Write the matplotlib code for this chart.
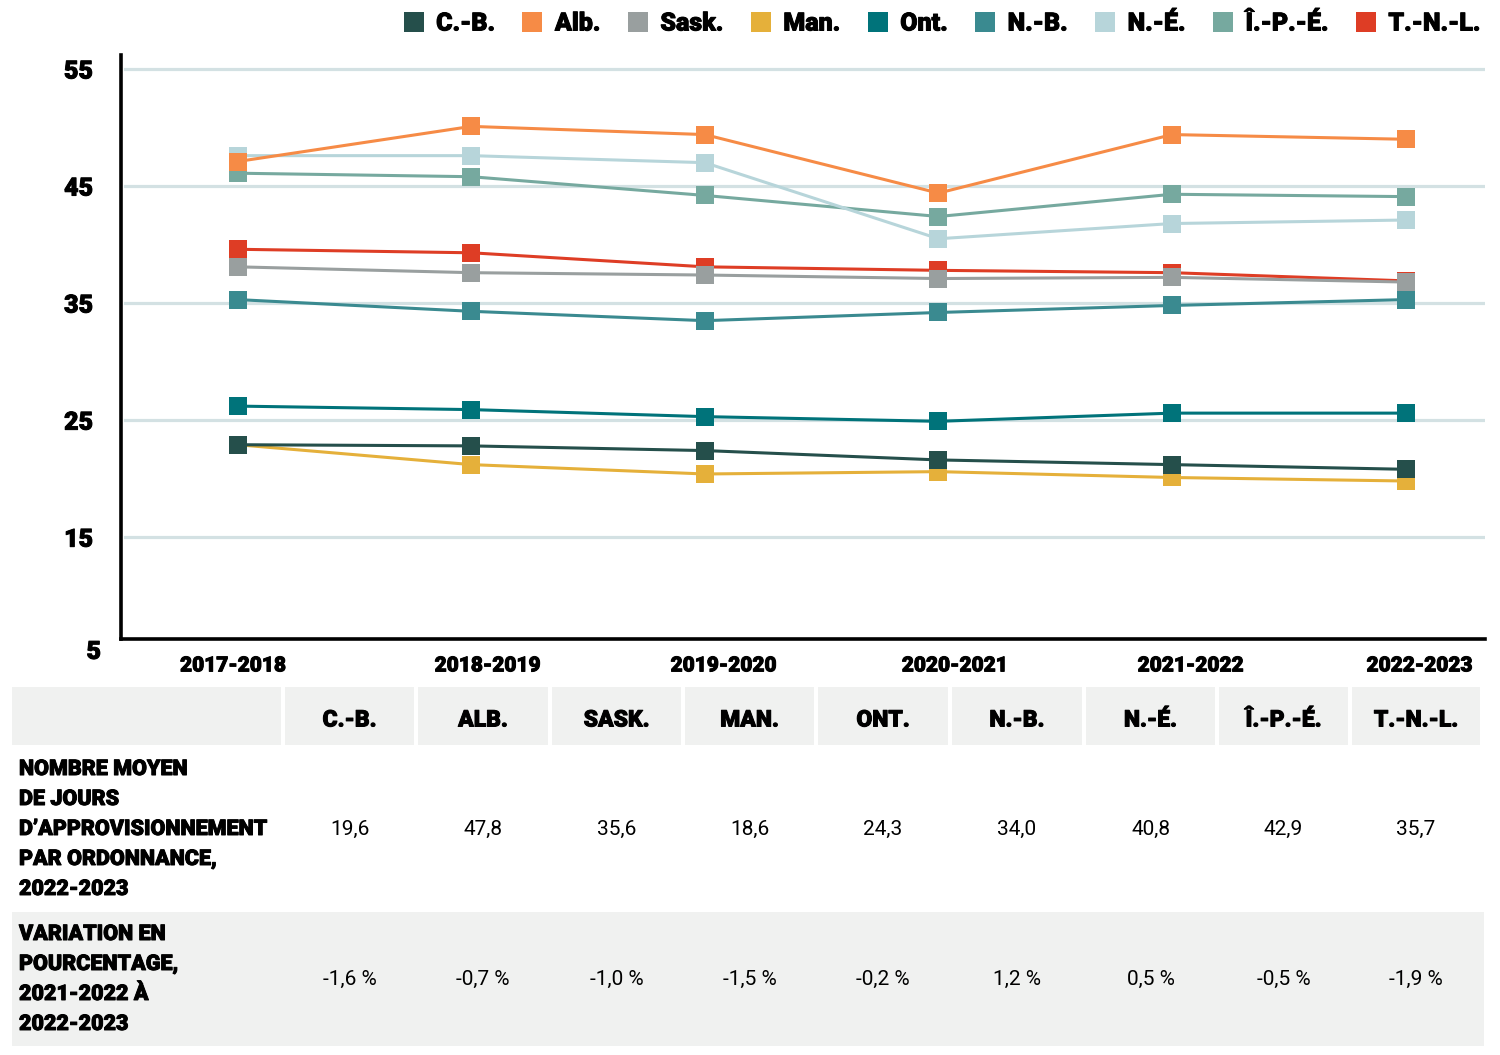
import numpy as np
import matplotlib
matplotlib.use("Agg")
from matplotlib import pyplot as plt
from matplotlib.patches import Rectangle
from matplotlib.lines import Line2D
import matplotlib.patheffects as pe

# Données du graphique
annees = ["2017-2018", "2018-2019", "2019-2020", "2020-2021", "2021-2022", "2022-2023"]
provinces = ["C.-B.", "Alb.", "Sask.", "Man.", "Ont.", "N.-B.", "N.-É.", "Î.-P.-É.", "T.-N.-L."]
couleurs = ["#254f4b", "#f68b46", "#999f9f", "#e5b03a", "#00737a",
            "#3a8a90", "#b7d5da", "#76a99f", "#de3d25"]

cb = [22.9, 22.8, 22.4, 21.6, 21.2, 20.8]
alb = [47.1, 50.1, 49.4, 44.4, 49.4, 49.0]
sask = [38.1, 37.6, 37.4, 37.1, 37.2, 36.8]
man = [22.9, 21.2, 20.4, 20.6, 20.1, 19.8]
ont = [26.2, 25.9, 25.3, 24.9, 25.6, 25.6]
nb = [35.3, 34.3, 33.5, 34.2, 34.8, 35.3]
ne = [47.6, 47.6, 47.0, 40.5, 41.8, 42.1]
ipe = [46.1, 45.8, 44.2, 42.4, 44.3, 44.1]
tnl = [39.6, 39.3, 38.1, 37.8, 37.6, 36.9]
series = [cb, alb, sask, man, ont, nb, ne, ipe, tnl]

# Tableau
entetes = ["C.-B.", "ALB.", "SASK.", "MAN.", "ONT.", "N.-B.", "N.-É.", "Î.-P.-É.", "T.-N.-L."]
jours_2223 = ["19,6", "47,8", "35,6", "18,6", "24,3", "34,0", "40,8", "42,9", "35,7"]
variation = ["-1,6 %", "-0,7 %", "-1,0 %", "-1,5 %", "-0,2 %", "1,2 %", "0,5 %", "-0,5 %", "-1,9 %"]
lib_jours = "NOMBRE MOYEN\nDE JOURS\nD’APPROVISIONNEMENT\nPAR ORDONNANCE,\n2022-2023"
lib_var = "VARIATION EN\nPOURCENTAGE,\n2021-2022 À\n2022-2023"

W, H = 1500, 1055
fig = plt.figure(figsize=(W / 100, H / 100), dpi=100)
epais = [pe.withStroke(linewidth=0.7, foreground="black")]
gras = dict(family=["Roboto", "DejaVu Sans"], weight=900)
leger = dict(family=["Roboto", "DejaVu Sans"], weight="normal")

# Axe principal (en pixels de la figure)
gx0, gx1, gy0, gy1 = 121, 1485, 55, 639
ax = fig.add_axes([gx0 / W, 1 - gy1 / H, (gx1 - gx0) / W, (gy1 - gy0) / H])
x = np.arange(len(annees))
ax.set_xlim(-0.50, 5.34)
ax.set_ylim(6.3, 56.2)

for v in [15, 25, 35, 45, 55]:
    ax.axhline(v, xmin=0.003, xmax=1, color="#d3e1e3", lw=2.3, zorder=1)

n = len(series)
for i, (nom, vals, c) in enumerate(zip(provinces, series, couleurs)):
    ax.plot(x, vals, color=c, lw=2.2, marker="s", ms=13, mec=c, mew=0,
            zorder=10 + n - i, solid_capstyle="butt")

for s in ["top", "right"]:
    ax.spines[s].set_visible(False)
for s in ["left", "bottom"]:
    ax.spines[s].set_linewidth(2.6)
    ax.spines[s].set_color("black")

ax.set_yticks([15, 25, 35, 45, 55])
ax.set_yticklabels(["15", "25", "35", "45", "55"], fontsize=18, **gras)
for t in ax.get_yticklabels():
    t.set_path_effects(epais)
ax.text(-0.585, 5.2, "5", ha="right", va="center", fontsize=18, clip_on=False,
        path_effects=epais, **gras)
ax.tick_params(axis="y", length=0, pad=20)
ax.set_xticks([])
decal = [-0.02, 0.07, 0.08, 0.07, 0.08, 0.06]
for i, a in enumerate(annees):
    ax.text(x[i] + decal[i], 4.0, a, ha="center", va="center", fontsize=15,
            clip_on=False, path_effects=epais, **gras)

# Légende
poignees = [Line2D([], [], ls="none", marker="s", ms=15, mew=0, color=c) for c in couleurs]
leg = fig.legend(poignees, provinces, loc="upper right", bbox_to_anchor=(1503 / W, 1 + 11 / H),
                 ncol=9, frameon=False, handlelength=0.8, handletextpad=0.5,
                 columnspacing=1.1, prop=dict(size=18, **gras))
for t in leg.get_texts():
    t.set_path_effects(epais)

# Tableau en coordonnées pixels
tab = fig.add_axes([0, 0, 1, 1], zorder=-1)
tab.set_xlim(0, W)
tab.set_ylim(H, 0)
tab.axis("off")
gris = "#f0f1f0"
bords = [12, 285, 418, 552, 685, 818, 952, 1086, 1219, 1352, 1484]
for j in range(len(bords) - 1):
    tab.add_patch(Rectangle((bords[j], 687), bords[j + 1] - bords[j] - 4, 58,
                            color=gris, lw=0))
tab.add_patch(Rectangle((12, 912), 1472, 134, color=gris, lw=0))
for j, (e, v1, v2) in enumerate(zip(entetes, jours_2223, variation)):
    cx = (bords[j + 1] + bords[j + 2] - 4) / 2
    tab.text(cx, 720, e, ha="center", va="center", fontsize=16.5,
             path_effects=epais, **gras)
    tab.text(cx, 829, v1, ha="center", va="center", fontsize=15, **leger)
    tab.text(cx, 979, v2, ha="center", va="center", fontsize=15, **leger)
tab.text(19, 829, lib_jours, ha="left", va="center", fontsize=15.5,
         linespacing=1.47, path_effects=epais, **gras)
tab.text(19, 979, lib_var, ha="left", va="center", fontsize=15.5,
         linespacing=1.47, path_effects=epais, **gras)

fig.savefig("out.png", dpi=100)
